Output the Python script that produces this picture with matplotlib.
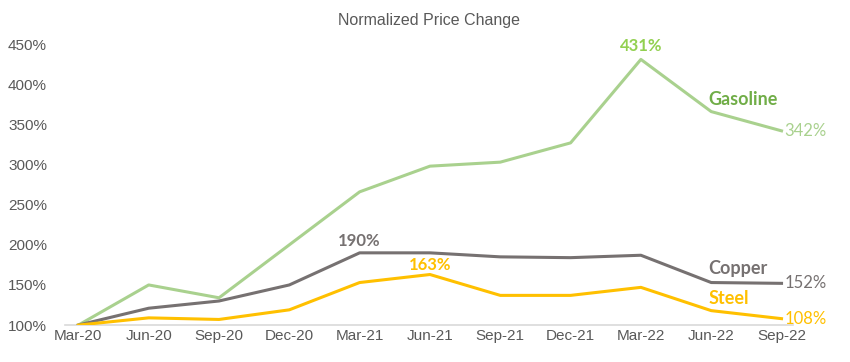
import matplotlib
matplotlib.use("Agg")
import matplotlib.pyplot as plt
from matplotlib.ticker import FuncFormatter

# --- data (normalized to Mar-20 = 100%) ---------------------------------------
quarters = ["Mar-20", "Jun-20", "Sep-20", "Dec-20", "Mar-21", "Jun-21",
            "Sep-21", "Dec-21", "Mar-22", "Jun-22", "Sep-22"]
gasoline = [100, 150, 134, 200, 266, 298, 303, 327, 431, 366, 342]
copper = [100, 121, 130, 150, 190, 190, 185, 184, 187, 153, 152]
steel = [100, 109, 107, 119, 153, 163, 137, 137, 147, 118, 108]
y_ticks = [100, 150, 200, 250, 300, 350, 400, 450]

plt.rcParams["font.family"] = ["Liberation Sans", "DejaVu Sans"]
LABEL_FONT = ["Lato", "DejaVu Sans"]

c_gas, c_gas_dark, c_gas_peak = "#A9D18E", "#70AD47", "#92D050"
c_cu = "#767171"
c_st = "#FFC000"

fig = plt.figure(figsize=(8.5, 3.62), dpi=100)
ax = fig.add_axes([0.0765, 0.102, 0.857, 0.776])

x = list(range(len(quarters)))
ax.plot(x, gasoline, color=c_gas, lw=2.2, solid_joinstyle="round")
ax.plot(x, copper, color=c_cu, lw=2.2, solid_joinstyle="round")
ax.plot(x, steel, color=c_st, lw=2.2, solid_joinstyle="round")

ax.set_xlim(-0.19, 10.17)
ax.set_ylim(100, 450)
ax.set_xticks(x)
ax.set_xticklabels(quarters)
ax.set_yticks(y_ticks)
ax.yaxis.set_major_formatter(FuncFormatter(lambda v, _: f"{v:.0f}%"))
ax.tick_params(length=0, labelsize=11, colors="#595959")
ax.tick_params(axis="x", pad=3)
ax.tick_params(axis="y", pad=13)
for s in ["top", "right", "left"]:
    ax.spines[s].set_visible(False)
ax.spines["bottom"].set_color("#D9D9D9")
ax.spines["bottom"].set_linewidth(1.2)
ax.spines["bottom"].set_zorder(0)

ax.set_title("Normalized Price Change", fontsize=11.5, color="#595959", pad=14)

# --- data labels ---------------------------------------------------------------
last = len(quarters) - 1
peak = gasoline.index(max(gasoline))
ax.annotate(f"{gasoline[peak]}%", (peak, gasoline[peak]), xytext=(0, 4),
            textcoords="offset points", ha="center", va="bottom",
            fontsize=12, fontweight="bold", color=c_gas_peak, family=LABEL_FONT,
            annotation_clip=False)
ax.annotate(f"{copper[4]}%", (4, copper[4]), xytext=(0, 3),
            textcoords="offset points", ha="center", va="bottom",
            fontsize=12, fontweight="bold", color=c_cu, family=LABEL_FONT)
ax.annotate(f"{steel[5]}%", (5, steel[5]), xytext=(0, 1),
            textcoords="offset points", ha="center", va="bottom",
            fontsize=12, fontweight="bold", color=c_st, family=LABEL_FONT)

for series, color in [(gasoline, c_gas), (copper, c_cu), (steel, c_st)]:
    ax.annotate(f"{series[last]}%", (last, series[last]), xytext=(2, 0),
                textcoords="offset points", ha="left", va="center",
                fontsize=12, color=color, family=LABEL_FONT,
                annotation_clip=False)

for name, series, color, dy in [("Gasoline", gasoline, c_gas_dark, 9),
                                ("Copper", copper, c_cu, 10),
                                ("Steel", steel, c_st, 9)]:
    ax.annotate(name, (9, series[9]), xytext=(-2, dy),
                textcoords="offset points", ha="left", va="center",
                fontsize=13, fontweight="bold", color=color, family=LABEL_FONT)

fig.savefig("out.png", dpi=100)
